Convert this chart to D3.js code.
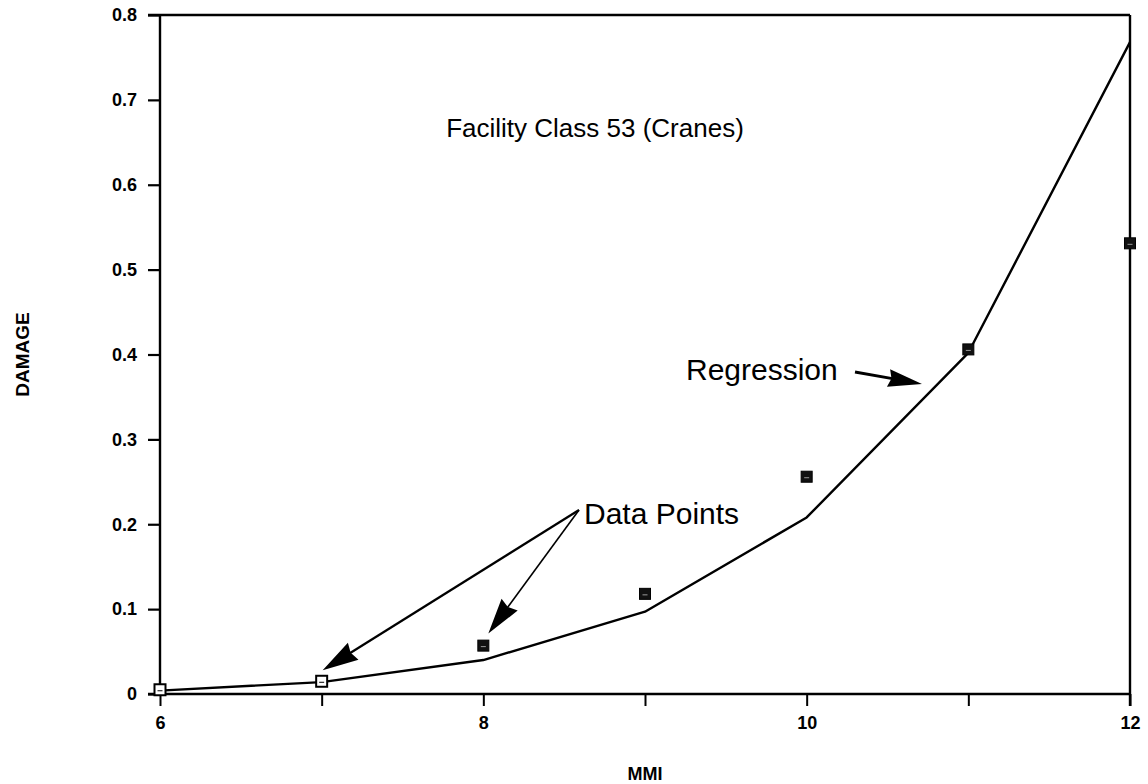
<!DOCTYPE html>
<html>
<head>
<meta charset="utf-8">
<script src="https://cdn.jsdelivr.net/npm/d3@7"></script>
<style>
  html, body { margin: 0; padding: 0; background: #fff; }
  svg { display: block; }
  text { font-family: "Liberation Sans", Arial, Helvetica, sans-serif; fill: #000; }
</style>
</head>
<body>
<svg id="chart" width="1148" height="784"></svg>
<script>
// ---- data ----
const mmi = [6, 7, 8, 9, 10, 11, 12];
const damagePoints = [0.005, 0.015, 0.057, 0.118, 0.256, 0.406, 0.531];
const regression = [0.004, 0.014, 0.040, 0.097, 0.208, 0.402, 0.768];
const xTickValues = [6, 7, 8, 9, 10, 11, 12];
const xTickLabels = ["6", "", "8", "", "10", "", "12"];
const yTickValues = [0, 0.1, 0.2, 0.3, 0.4, 0.5, 0.6, 0.7, 0.8];
const yTickLabels = ["0", "0.1", "0.2", "0.3", "0.4", "0.5", "0.6", "0.7", "0.8"];
const titleText = "Facility Class 53 (Cranes)";
const xTitle = "MMI";
const yTitle = "DAMAGE";

// ---- layout ----
const pLeft = 160, pRight = 1130, pTop = 15, pBottom = 694;
const svg = d3.select("#chart");
const x = d3.scaleLinear().domain([6, 12]).range([pLeft, pRight]);
const y = d3.scaleLinear().domain([0, 0.8]).range([pBottom, pTop]);

// frame (left, top, right axis lines + bottom axis)
const frame = svg.append("g").attr("stroke", "#000").attr("stroke-width", 2.4).attr("fill", "none");
frame.append("line").attr("x1", pLeft).attr("x2", pLeft).attr("y1", pTop).attr("y2", pBottom);
frame.append("line").attr("x1", pLeft - 12).attr("x2", pRight).attr("y1", pTop).attr("y2", pTop);
frame.append("line").attr("x1", pRight).attr("x2", pRight).attr("y1", pTop).attr("y2", pBottom + 12);
frame.append("line").attr("x1", pLeft - 12).attr("x2", pRight).attr("y1", pBottom).attr("y2", pBottom);

// y axis
const yAxis = d3.axisLeft(y)
  .tickValues(yTickValues)
  .tickFormat((d, i) => yTickLabels[i])
  .tickSize(12)
  .tickPadding(11);
const gy = svg.append("g").attr("transform", `translate(${pLeft},0)`).call(yAxis);
gy.select(".domain").remove();
gy.selectAll(".tick line").attr("stroke", "#000").attr("stroke-width", 2.2);
gy.selectAll(".tick text")
  .style("font-family", '"Liberation Sans", Arial, sans-serif')
  .style("font-size", "18px").style("font-weight", "bold");

// x axis
const xAxis = d3.axisBottom(x)
  .tickValues(xTickValues)
  .tickFormat((d, i) => xTickLabels[i])
  .tickSize(12)
  .tickPadding(10);
const gx = svg.append("g").attr("transform", `translate(0,${pBottom})`).call(xAxis);
gx.select(".domain").remove();
gx.selectAll(".tick line").attr("stroke", "#000").attr("stroke-width", 2);
gx.selectAll(".tick text")
  .style("font-family", '"Liberation Sans", Arial, sans-serif')
  .style("font-size", "18px").style("font-weight", "bold");

// axis titles
svg.append("text")
  .attr("x", (pLeft + pRight) / 2).attr("y", 780)
  .attr("text-anchor", "middle")
  .style("font-size", "18px").style("font-weight", "bold")
  .text(xTitle);
svg.append("text")
  .attr("transform", `translate(29,${(pTop + pBottom) / 2}) rotate(-90)`)
  .attr("text-anchor", "middle")
  .style("font-size", "19px").style("font-weight", "bold")
  .text(yTitle);

// regression line
const line = d3.line().x((d, i) => x(mmi[i])).y(d => y(d));
svg.append("path")
  .datum(regression)
  .attr("d", line)
  .attr("fill", "none")
  .attr("stroke", "#000")
  .attr("stroke-width", 2.4)
  .attr("stroke-linejoin", "round");

// data points
const sz = 11;
svg.append("g").selectAll("rect")
  .data(damagePoints)
  .join("rect")
  .attr("x", (d, i) => x(mmi[i]) - sz / 2)
  .attr("y", d => y(d) - sz / 2)
  .attr("width", sz).attr("height", sz)
  .attr("fill", (d, i) => i < 2 ? "#fff" : "#111")
  .attr("stroke", "#000")
  .attr("stroke-width", (d, i) => i < 2 ? 2 : 1);
// small inner marks on the squares
svg.append("g").selectAll("line")
  .data(damagePoints)
  .join("line")
  .attr("x1", (d, i) => x(mmi[i]) - 2.5)
  .attr("x2", (d, i) => x(mmi[i]) + 2.5)
  .attr("y1", d => y(d) + 1)
  .attr("y2", d => y(d) + 1)
  .attr("stroke", (d, i) => i < 2 ? "#000" : "#999")
  .attr("stroke-width", 1);

// ---- annotations ----
svg.append("text")
  .attr("x", 595).attr("y", 137)
  .attr("text-anchor", "middle")
  .style("font-size", "26px")
  .text(titleText);

svg.append("text")
  .attr("x", 584).attr("y", 524)
  .style("font-size", "30px")
  .text("Data Points");

svg.append("text")
  .attr("x", 686).attr("y", 380)
  .style("font-size", "30px")
  .text("Regression");

function arrow(x1, y1, x2, y2, w, headLen, headHalf) {
  const dx = x2 - x1, dy = y2 - y1, L = Math.hypot(dx, dy);
  const ux = dx / L, uy = dy / L, px = -uy, py = ux;
  const bx = x2 - ux * headLen, by = y2 - uy * headLen;
  svg.append("line")
    .attr("x1", x1).attr("y1", y1).attr("x2", bx + ux * 4).attr("y2", by + uy * 4)
    .attr("stroke", "#000").attr("stroke-width", w);
  svg.append("path")
    .attr("d", `M${x2},${y2}L${bx + px * headHalf},${by + py * headHalf}L${bx + ux * 3},${by + uy * 3}L${bx - px * headHalf},${by - py * headHalf}Z`)
    .attr("fill", "#000");
}
// arrows from "Data Points" to points at MMI 7 and 8
const ox = 579, oy = 510;
arrow(ox, oy, x(mmi[1]) + 1, y(damagePoints[1]) - 11, 2.2, 36, 10);
arrow(ox, oy, x(mmi[2]) + 5, y(damagePoints[2]) - 12, 1.6, 36, 10);
// arrow from "Regression" to the line
arrow(855, 372, 922, 384, 2.8, 34, 9);
</script>
</body>
</html>
